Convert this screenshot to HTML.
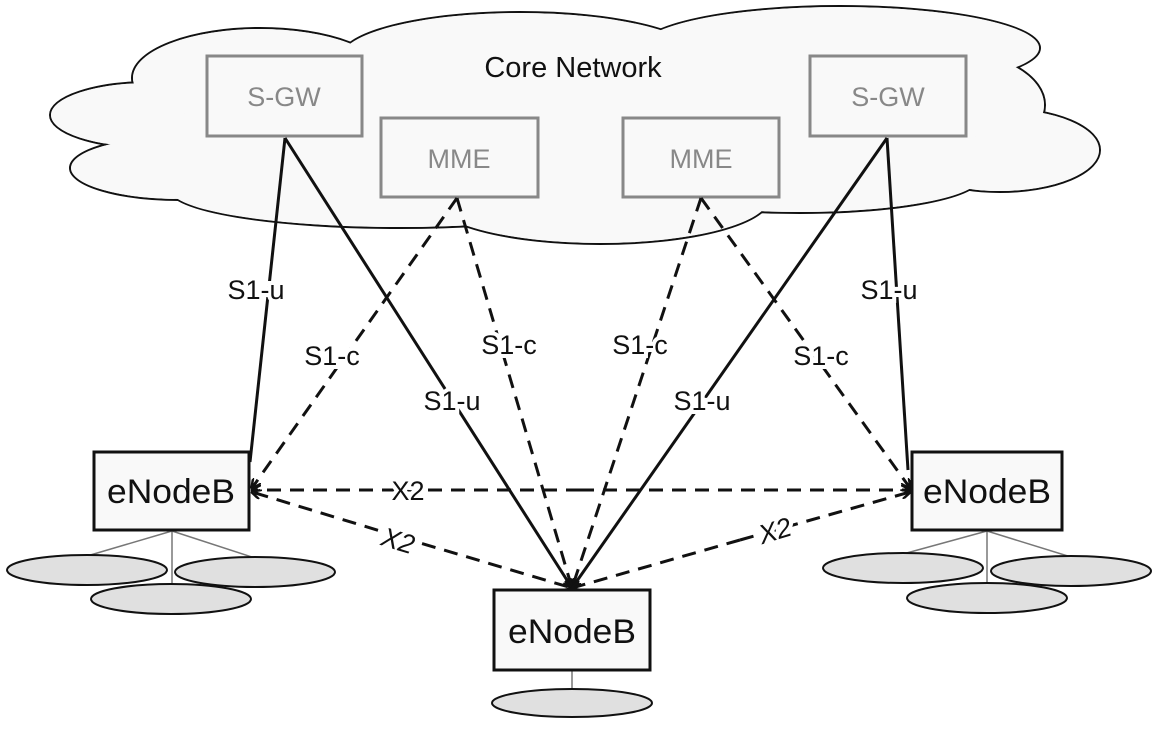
<!DOCTYPE html>
<html><head><style>body{margin:0;background:#fff}svg{display:block}</style></head><body>
<svg width="1162" height="731" viewBox="0 0 1162 731" xmlns="http://www.w3.org/2000/svg" font-family="Liberation Sans, sans-serif">
<defs>
<marker id="a" markerWidth="10" markerHeight="10" refX="9" refY="5" orient="auto" markerUnits="userSpaceOnUse" viewBox="0 0 10 10"><path d="M0,0 L10,5 L0,10" fill="none" stroke="#111" stroke-width="2.5"/></marker>
</defs>
<g stroke="#111" stroke-width="2" fill="#f9f9f9">
<ellipse cx="260" cy="78" rx="128" ry="50"/>
<ellipse cx="150" cy="115" rx="100" ry="33"/>
<ellipse cx="180" cy="168" rx="110" ry="32"/>
<ellipse cx="400" cy="190" rx="230" ry="38"/>
<ellipse cx="520" cy="58" rx="180" ry="46"/>
<ellipse cx="840" cy="48" rx="200" ry="42"/>
<ellipse cx="945" cy="105" rx="100" ry="55"/>
<ellipse cx="1000" cy="150" rx="100" ry="42"/>
<ellipse cx="800" cy="178" rx="180" ry="35"/>
<ellipse cx="600" cy="198" rx="170" ry="46"/>
</g>
<g fill="#f9f9f9">
<ellipse cx="260" cy="78" rx="127" ry="49"/>
<ellipse cx="150" cy="115" rx="99" ry="32"/>
<ellipse cx="180" cy="168" rx="109" ry="31"/>
<ellipse cx="400" cy="190" rx="229" ry="37"/>
<ellipse cx="520" cy="58" rx="179" ry="45"/>
<ellipse cx="840" cy="48" rx="199" ry="41"/>
<ellipse cx="945" cy="105" rx="99" ry="54"/>
<ellipse cx="1000" cy="150" rx="99" ry="41"/>
<ellipse cx="800" cy="178" rx="179" ry="34"/>
<ellipse cx="600" cy="198" rx="169" ry="45"/>
<ellipse cx="580" cy="125" rx="400" ry="75"/>
</g>
<text x="573" y="77" font-size="29" fill="#111" text-anchor="middle">Core Network</text>
<g fill="none" stroke="#888" stroke-width="3">
<rect x="207" y="56" width="155" height="80"/>
<rect x="381" y="118" width="157" height="79"/>
<rect x="623" y="118" width="156" height="79"/>
<rect x="810" y="56" width="156" height="80"/>
</g>
<g font-size="27" fill="#888" text-anchor="middle">
<text x="284" y="106">S-GW</text><text x="459" y="168">MME</text>
<text x="701" y="168">MME</text><text x="888" y="106">S-GW</text>
</g>
<g stroke="#111" stroke-width="3" fill="none">
<line x1="285" y1="138" x2="250" y2="462"/>
<line x1="285" y1="138" x2="572" y2="588" marker-end="url(#a)"/>
<line x1="887" y1="138" x2="572" y2="588" marker-end="url(#a)"/>
<line x1="887" y1="138" x2="908" y2="470"/>
<g stroke-dasharray="14,9">
<line x1="457" y1="198" x2="252" y2="488" marker-end="url(#a)"/>
<line x1="457" y1="198" x2="572" y2="588" marker-end="url(#a)"/>
<line x1="701" y1="198" x2="572" y2="588" marker-end="url(#a)"/>
<line x1="701" y1="198" x2="910" y2="488" marker-end="url(#a)"/>
<line x1="580" y1="490" x2="252" y2="490" marker-end="url(#a)"/>
<line x1="580" y1="490" x2="910" y2="490" marker-end="url(#a)"/>
<line x1="400" y1="537" x2="252" y2="492" marker-end="url(#a)"/>
<line x1="400" y1="537" x2="572" y2="588" marker-end="url(#a)"/>
<line x1="740" y1="540" x2="572" y2="588" marker-end="url(#a)"/>
<line x1="740" y1="540" x2="910" y2="492" marker-end="url(#a)"/>
</g>
</g>
<g font-size="27" fill="#111" text-anchor="middle" stroke="#fff" stroke-width="8" paint-order="stroke">
<text x="256" y="299">S1-u</text><text x="332" y="365">S1-c</text>
<text x="452" y="410">S1-u</text><text x="509" y="354">S1-c</text>
<text x="640" y="354">S1-c</text><text x="702" y="410">S1-u</text>
<text x="821" y="365">S1-c</text><text x="889" y="299">S1-u</text>
<text x="408" y="500">X2</text>
<text x="398" y="550" font-style="italic" transform="rotate(17 398 541)">X2</text>
<text x="775" y="540" font-style="italic" transform="rotate(-17 775 531)">X2</text>
</g>
<g stroke="#777" stroke-width="1.5">
<line x1="172" y1="531" x2="87" y2="556"/><line x1="172" y1="531" x2="255" y2="558"/><line x1="172" y1="531" x2="172" y2="585"/>
<line x1="987" y1="531" x2="903" y2="554"/><line x1="987" y1="531" x2="1071" y2="557"/><line x1="987" y1="531" x2="987" y2="584"/>
<line x1="572" y1="670" x2="572" y2="689"/>
</g>
<g fill="#e0e0e0" stroke="#111" stroke-width="2">
<ellipse cx="87" cy="570" rx="80" ry="15"/><ellipse cx="255" cy="572" rx="80" ry="15"/><ellipse cx="171" cy="599" rx="80" ry="15"/>
<ellipse cx="903" cy="568" rx="80" ry="15"/><ellipse cx="1071" cy="571" rx="80" ry="15"/><ellipse cx="987" cy="598" rx="80" ry="15"/>
<ellipse cx="572" cy="703" rx="80" ry="14"/>
</g>
<g fill="#f9f9f9" stroke="#111" stroke-width="3">
<rect x="94" y="452" width="155" height="78"/>
<rect x="912" y="452" width="150" height="78"/>
<rect x="494" y="590" width="156" height="80"/>
</g>
<g font-size="34" fill="#111" text-anchor="middle">
<text x="171" y="503" textLength="128" lengthAdjust="spacingAndGlyphs">eNodeB</text>
<text x="987" y="503" textLength="128" lengthAdjust="spacingAndGlyphs">eNodeB</text>
<text x="572" y="643" textLength="128" lengthAdjust="spacingAndGlyphs">eNodeB</text>
</g>
</svg>
</body></html>
